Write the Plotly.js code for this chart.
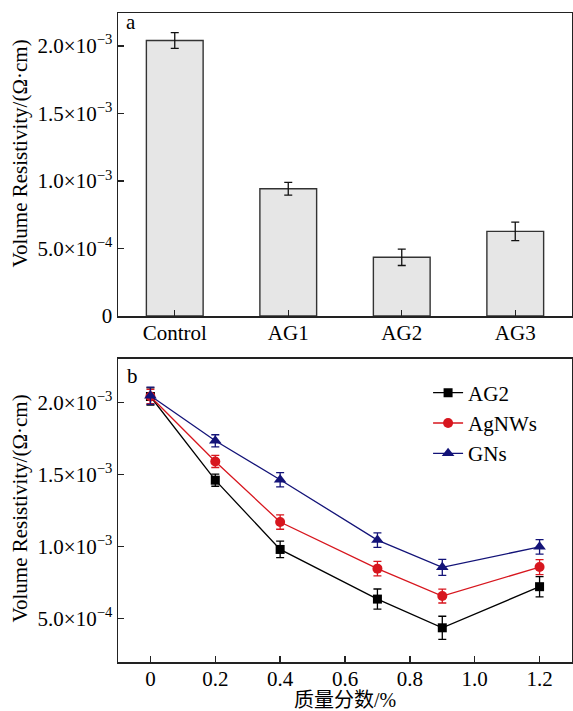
<!DOCTYPE html>
<html>
<head>
<meta charset="utf-8">
<script src="https://cdn.plot.ly/plotly-3.0.1.min.js"></script>
<style>html,body{margin:0;padding:0;background:#fff;}#chart{width:573px;height:711px;}</style>
</head>
<body>
<div id="chart"></div>
<script>
// Panel a: bar chart
const barCategories = ["Control", "AG1", "AG2", "AG3"];
const barValues = [2.04e-3, 0.943e-3, 0.435e-3, 0.627e-3];
const barErrors = [0.058e-3, 0.047e-3, 0.061e-3, 0.069e-3];

// Panel b: line chart
const massFraction = [0, 0.2, 0.4, 0.7, 0.9, 1.2];
const ag2Values = [2.04e-3, 1.46e-3, 0.98e-3, 0.636e-3, 0.437e-3, 0.722e-3];
const ag2Errors = [0.06e-3, 0.042e-3, 0.057e-3, 0.07e-3, 0.08e-3, 0.07e-3];
const agnwsValues = [2.04e-3, 1.59e-3, 1.17e-3, 0.847e-3, 0.657e-3, 0.858e-3];
const agnwsErrors = [0.05e-3, 0.042e-3, 0.05e-3, 0.05e-3, 0.048e-3, 0.052e-3];
const gnsValues = [2.045e-3, 1.733e-3, 1.463e-3, 1.045e-3, 0.856e-3, 0.998e-3];
const gnsErrors = [0.06e-3, 0.042e-3, 0.05e-3, 0.05e-3, 0.055e-3, 0.05e-3];

const yTickValsA = [0, 5e-4, 1e-3, 1.5e-3, 2e-3];
const yTickTextA = ["0", "5.0×10<sup>−4</sup>", "1.0×10<sup>−3</sup>", "1.5×10<sup>−3</sup>", "2.0×10<sup>−3</sup>"];
const yTickValsB = [5e-4, 1e-3, 1.5e-3, 2e-3];
const yTickTextB = ["5.0×10<sup>−4</sup>", "1.0×10<sup>−3</sup>", "1.5×10<sup>−3</sup>", "2.0×10<sup>−3</sup>"];
const xTickValsB = [0, 0.2, 0.4, 0.6, 0.8, 1.0, 1.2];
const xTickTextB = ["0", "0.2", "0.4", "0.6", "0.8", "1.0", "1.2"];
const yTitle = "Volume Resistivity/(Ω·cm)";
const xTitleB = "质量分数/%";

const serif = "Liberation Serif, Tinos, Times New Roman, serif";
const cjk = "Liberation Serif, Noto Sans CJK SC";
const axisColor = "#222";

const traces = [
  {
    type: "bar", x: barCategories, y: barValues, xaxis: "x", yaxis: "y",
    width: 0.5,
    marker: {color: "#e6e6e6", line: {color: "#333", width: 1.4}},
    error_y: {type: "data", array: barErrors, visible: true, color: "#111", thickness: 1.3, width: 4},
    showlegend: false
  },
  {
    type: "scatter", mode: "lines+markers", name: "AG2", x: massFraction, y: ag2Values,
    xaxis: "x2", yaxis: "y2",
    line: {color: "#000", width: 1.3},
    marker: {symbol: "square", size: 9, color: "#000"},
    error_y: {type: "data", array: ag2Errors, visible: true, color: "#000", thickness: 1.3, width: 4}
  },
  {
    type: "scatter", mode: "lines+markers", name: "AgNWs", x: massFraction, y: agnwsValues,
    xaxis: "x2", yaxis: "y2",
    line: {color: "#d7161e", width: 1.3},
    marker: {symbol: "circle", size: 10, color: "#d7161e"},
    error_y: {type: "data", array: agnwsErrors, visible: true, color: "#d7161e", thickness: 1.3, width: 4}
  },
  {
    type: "scatter", mode: "lines+markers", name: "GNs", x: massFraction, y: gnsValues,
    xaxis: "x2", yaxis: "y2",
    line: {color: "#131378", width: 1.3},
    marker: {symbol: "triangle-up", size: 11, color: "#131378"},
    error_y: {type: "data", array: gnsErrors, visible: true, color: "#131378", thickness: 1.3, width: 4}
  }
];

const axisCommon = {
  showline: true, mirror: true, linecolor: axisColor, linewidth: 1.5,
  ticks: "inside", ticklen: 6, tickwidth: 1.3, tickcolor: axisColor,
  showgrid: false, zeroline: false,
  tickfont: {family: serif, size: 21, color: "#000"}
};

const layout = {
  width: 573, height: 711,
  margin: {l: 118, r: 1, t: 13, b: 49},
  paper_bgcolor: "#fff", plot_bgcolor: "#fff",
  font: {family: serif, size: 21, color: "#000"},
  xaxis: Object.assign({}, axisCommon, {
    type: "category", range: [-0.5, 3.5], domain: [0, 1], anchor: "y",
    ticklabelstandoff: -3
  }),
  yaxis: Object.assign({}, axisCommon, {
    range: [0, 2.244e-3], domain: [0.5331, 1], anchor: "x",
    tickmode: "array", tickvals: yTickValsA, ticktext: yTickTextA
  }),
  xaxis2: Object.assign({}, axisCommon, {
    range: [-0.1, 1.3], domain: [0, 1], anchor: "y2",
    tickmode: "array", tickvals: xTickValsB, ticktext: xTickTextB,
    ticklabelstandoff: -3,
    title: {text: xTitleB, font: {family: cjk, size: 20, color: "#000"}, standoff: 7}
  }),
  yaxis2: Object.assign({}, axisCommon, {
    range: [2e-4, 2.3e-3], domain: [0, 0.4669], anchor: "x2",
    tickmode: "array", tickvals: yTickValsB, ticktext: yTickTextB
  }),
  legend: {
    x: 0.683, y: 0.446, xanchor: "left", yanchor: "top",
    bgcolor: "rgba(0,0,0,0)", borderwidth: 0,
    font: {family: serif, size: 21, color: "#000"},
    tracegroupgap: 0
  },
  showlegend: true,
  annotations: [
    {text: yTitle, xref: "paper", yref: "paper", x: -0.2159, y: 0.7835, textangle: -90, showarrow: false,
     font: {family: serif, size: 21, color: "#000"}, xanchor: "center", yanchor: "middle"},
    {text: yTitle, xref: "paper", yref: "paper", x: -0.2159, y: 0.2365, textangle: -90, showarrow: false,
     font: {family: serif, size: 21, color: "#000"}, xanchor: "center", yanchor: "middle"},
    {text: "a", xref: "paper", yref: "paper", x: 0.0286, y: 0.986, showarrow: false,
     font: {family: serif, size: 21, color: "#000"}, xanchor: "center", yanchor: "middle"},
    {text: "b", xref: "paper", yref: "paper", x: 0.033, y: 0.4407, showarrow: false,
     font: {family: serif, size: 21, color: "#000"}, xanchor: "center", yanchor: "middle"}
  ]
};

Plotly.newPlot("chart", traces, layout, {staticPlot: true, displayModeBar: false});
</script>
</body>
</html>
